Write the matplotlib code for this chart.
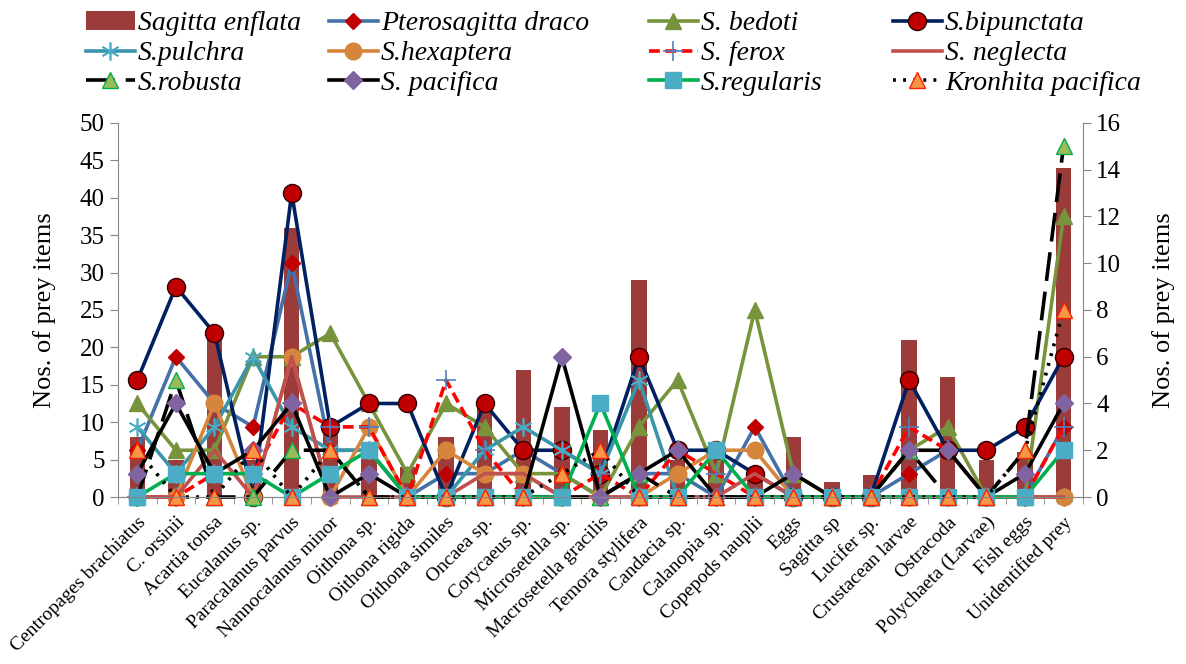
import matplotlib
matplotlib.use("Agg")
import matplotlib.pyplot as plt
import numpy as np

plt.rcParams['font.family'] = ['Liberation Serif', 'DejaVu Serif']

prey = ["Centropages brachiatus", "C. orsinii", "Acartia tonsa", "Eucalanus sp.",
        "Paracalanus parvus", "Nannocalanus minor", "Oithona sp.", "Oithona rigida",
        "Oithona similes", "Oncaea sp.", "Corycaeus sp.", "Microsetella sp.",
        "Macrosetella gracilis", "Temora stylifera", "Candacia sp.", "Calanopia sp.",
        "Copepods nauplii", "Eggs", "Sagitta sp", "Lucifer sp.", "Crustacean larvae",
        "Ostracoda", "Polychaeta (Larvae)", "Fish eggs", "Unidentified prey"]

# bars, left axis
enflata = [8, 5, 21, 5, 36, 9, 7, 4, 8, 13, 17, 12, 9, 29, 5, 5, 3, 8, 2, 3, 21, 16, 5, 6, 44]

# lines, right axis
draco      = [2, 6, 4, 3, 10, 2, 2, 0, 1, 1, 2, 1, 0, 1, 1, 0, 3, 0, 0, 0, 1, 2, 0, 0, 3]
bedoti     = [4, 2, 2, 6, 6, 7, 4, 1, 4, 3, 1, 1, 0, 3, 5, 1, 8, 1, 0, 0, 2, 3, 0, 0, 12]
bipunctata = [5, 9, 7, 0, 13, 3, 4, 4, 0, 4, 2, 2, 1, 6, 2, 2, 1, 0, 0, 0, 5, 2, 2, 3, 6]
pulchra    = [3, 1, 3, 6, 3, 2, 2, 0, 0, 2, 3, 2, 1, 5, 0, 0, 0, 0, 0, 0, 0, 0, 0, 0, 0]
hexaptera  = [0, 0, 4, 0, 6, 0, 3, 0, 2, 1, 1, 0, 0, 0, 1, 2, 2, 0, 0, 0, 0, 0, 0, 0, 0]
ferox      = [0, 0, 1, 1, 4, 3, 3, 0, 5, 2, 0, 0, 1, 0, 2, 1, 0, 0, 0, 0, 3, 2, 0, 0, 3]
neglecta   = [0, 0, 2, 0, 6, 0, 0, 0, 0, 1, 1, 0, 0, 0, 0, 0, 1, 0, 0, 0, 0, 0, 0, 0, 0]
robusta    = [0, 5, 0, 0, 2, 2, 0, 0, 0, 0, 0, 0, 0, 1, 0, 0, 0, 0, 0, 0, 2, 0, 0, 2, 15]
pacifica   = [1, 4, 1, 2, 4, 0, 1, 0, 0, 0, 0, 6, 0, 1, 2, 0, 0, 1, 0, 0, 2, 2, 0, 1, 4]
regularis  = [0, 1, 1, 1, 0, 1, 2, 0, 0, 0, 0, 0, 4, 0, 0, 2, 0, 0, 0, 0, 0, 0, 0, 0, 2]
kronhita   = [2, 0, 0, 2, 0, 2, 0, 0, 0, 0, 0, 1, 2, 0, 0, 0, 0, 0, 0, 0, 0, 0, 0, 2, 8]

x = np.arange(len(prey))

fig = plt.figure(figsize=(11.86, 6.64), dpi=100)
ax = fig.add_axes([0.0995, 0.2515, 0.8135, 0.5633])
ax2 = ax.twinx()

bars = ax.bar(x, enflata, width=0.4, color='#9B3B3A', zorder=1, label='Sagitta enflata')

lw = 2.6
styles = [
    (draco, 'Pterosagitta draco', dict(color='#4472A8', marker='D', mfc='#C00000', mec='#C00000', ms=8)),
    (bedoti, 'S. bedoti', dict(color='#77933C', marker='^', mfc='#77933C', mec='#77933C', ms=11)),
    (bipunctata, 'S.bipunctata', dict(color='#002060', marker='o', mfc='#C00000', mec='#300000', ms=13)),
    (pulchra, 'S.pulchra', dict(color='#3A94AA', marker=(6, 2, 0), mfc='#4BACC6', mec='#4BACC6', ms=13, mew=1.2)),
    (hexaptera, 'S.hexaptera', dict(color='#D6853D', marker='o', mfc='#D6853D', mec='#D6853D', ms=12)),
    (ferox, 'S. ferox', dict(color='#FF0000', ls=(0, (3, 1.5)), marker='+', mfc='#4F81BD', mec='#4F81BD', ms=14, mew=1.2)),
    (neglecta, 'S. neglecta', dict(color='#C0504D')),
    (robusta, 'S.robusta', dict(color='black', ls=(0, (8, 3)), marker='^', mfc='#9BBB59', mec='#00B050', ms=12)),
    (pacifica, 'S. pacifica', dict(color='black', marker='D', mfc='#8064A2', mec='#8064A2', ms=9)),
    (regularis, 'S.regularis', dict(color='#00B050', marker='s', mfc='#4BACC6', mec='#4BACC6', ms=11)),
    (kronhita, 'Kronhita pacifica', dict(color='black', ls=(0, (0.8, 2)), marker='^', mfc='#F79646', mec='#FF2000', ms=12)),
]
handles = {}
for data, name, kw in styles:
    ln, = ax2.plot(x, data, lw=lw, clip_on=False, label=name, **kw)
    handles[name] = ln

ax.set_xlim(-0.5, len(prey) - 0.5)
ax.set_ylim(0, 50)
ax2.set_ylim(0, 16)
ax.set_yticks(range(0, 51, 5))
ax2.set_yticks(range(0, 17, 2))

for a in (ax, ax2):
    a.spines['top'].set_visible(False)
    for s in ('left', 'right', 'bottom'):
        a.spines[s].set_color('#868686')
    a.tick_params(axis='y', colors='#868686', labelcolor='black', labelsize=18, length=6, direction='out')
ax.spines['right'].set_visible(False)
ax2.spines['left'].set_visible(False)

ax.set_xticks(x)
ax.set_xticklabels(prey, rotation=45, ha='right', rotation_mode='anchor', fontsize=14)
ax.set_xticks(np.arange(-0.5, len(prey) - 0.4, 1 / 3), minor=True)
ax.tick_params(axis='x', which='major', length=0, pad=12)
ax.tick_params(axis='x', which='minor', length=5, color='#868686', direction='out')

ax.set_ylabel('Nos. of prey items', fontsize=19, labelpad=17)
ax2.set_ylabel('Nos. of prey items', fontsize=19, labelpad=22)

cols = [['Sagitta enflata', 'S.pulchra', 'S.robusta'],
        ['Pterosagitta draco', 'S.hexaptera', 'S. pacifica'],
        ['S. bedoti', 'S. ferox', 'S.regularis'],
        ['S.bipunctata', 'S. neglecta', 'Kronhita pacifica']]
handles['Sagitta enflata'] = bars
col_x = [86, 329, 649, 893]
for cx, names in zip(col_x, cols):
    fig.legend([handles[n] for n in names], names, loc='upper left',
               bbox_to_anchor=(cx / 1186, 1 - 11 / 664), frameon=False,
               borderpad=0, borderaxespad=0, labelspacing=0.16,
               handlelength=1.75, handletextpad=0.12,
               prop={'style': 'italic', 'size': 20})

fig.savefig('out.png', dpi=100)
